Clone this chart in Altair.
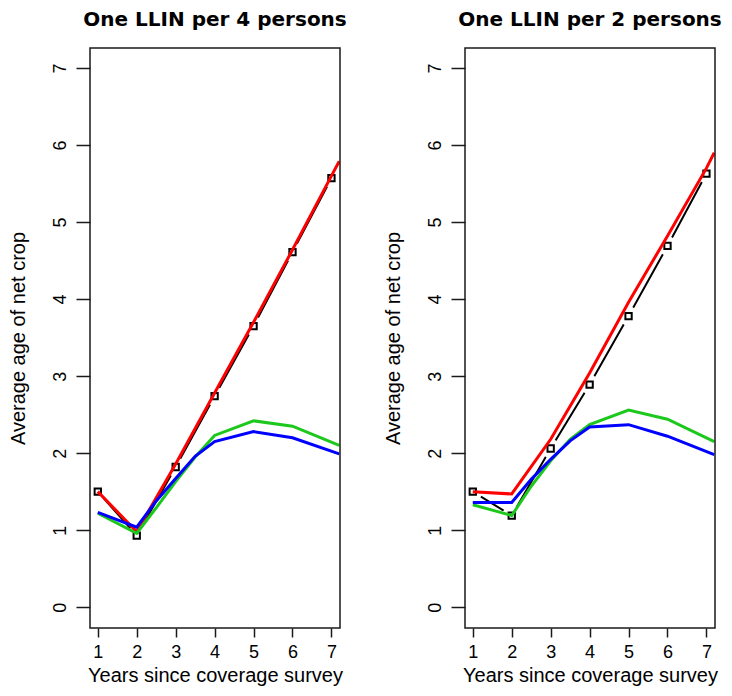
import altair as alt
import pandas as pd

# ---- data ----
x_obs = [1, 2, 3, 4, 5, 6, 7]
obs_4 = [1.50, 0.93, 1.82, 2.74, 3.65, 4.61, 5.57]
obs_2 = [1.50, 1.19, 2.06, 2.89, 3.78, 4.69, 5.63]

x_red = [1, 2, 3, 4, 5, 6, 7, 7.2]
red_4 = [1.50, 0.98, 1.86, 2.78, 3.70, 4.64, 5.60, 5.79]
red_2 = [1.50, 1.47, 2.18, 3.04, 3.96, 4.82, 5.70, 5.90]

x_curve = [1, 2, 2.5, 3, 3.5, 4, 5, 6, 7.2]
green_4 = [1.22, 0.96, 1.29, 1.63, 1.95, 2.23, 2.42, 2.35, 2.10]
blue_4 = [1.23, 1.04, 1.38, 1.67, 1.96, 2.15, 2.28, 2.20, 1.99]
green_2 = [1.33, 1.19, 1.57, 1.90, 2.18, 2.37, 2.56, 2.44, 2.15]
blue_2 = [1.36, 1.36, 1.66, 1.92, 2.16, 2.34, 2.37, 2.22, 1.98]

titles = ["One LLIN per 4 persons", "One LLIN per 2 persons"]
x_ticks = [1, 2, 3, 4, 5, 6, 7]
y_ticks = [0, 1, 2, 3, 4, 5, 6, 7]

AX_FONT = "Liberation Sans"
INK = "#1a1a1a"


def panel(title, obs, red, green, blue):
    xs = alt.Scale(domain=[0.8, 7.22], nice=False, zero=False)
    ys = alt.Scale(domain=[-0.27, 7.26], nice=False, zero=False)
    xax = alt.Axis(values=x_ticks, title="Years since coverage survey", grid=False,
                   domain=False, tickSize=9, tickWidth=1.5, tickColor=INK,
                   labelFont=AX_FONT, labelFontSize=18, labelColor="black",
                   labelPadding=6, labelFlush=False, format="d",
                   titleFont=AX_FONT, titleFontSize=20, titleFontWeight="normal",
                   titleColor="black", titlePadding=4)
    yax = alt.Axis(values=y_ticks, title="Average age of net crop", grid=False,
                   domain=False, tickSize=14, tickWidth=1.5, tickColor=INK,
                   labelFont=AX_FONT, labelFontSize=18, labelColor="black",
                   labelAngle=270, labelAlign="center", labelBaseline="bottom",
                   labelPadding=7, labelFlush=False, format="d",
                   titleFont=AX_FONT, titleFontSize=20, titleFontWeight="normal",
                   titleColor="black", titlePadding=23)

    obs_df = pd.DataFrame({"x": x_obs, "y": obs})
    red_df = pd.DataFrame({"x": x_red, "y": red})
    green_df = pd.DataFrame({"x": x_curve, "y": green})
    blue_df = pd.DataFrame({"x": x_curve, "y": blue})

    def enc(ch):
        return ch.encode(
            x=alt.X("x:Q", scale=xs, axis=xax),
            y=alt.Y("y:Q", scale=ys, axis=yax),
        )

    black = enc(alt.Chart(obs_df).mark_line(color="black", strokeWidth=2))
    halo = enc(alt.Chart(obs_df).mark_point(shape="circle", filled=True, color="white",
                                              size=380, opacity=1, clip=True))
    marks = enc(alt.Chart(obs_df).mark_point(shape="square", size=40, fill="white",
                                               fillOpacity=1, stroke="black",
                                               strokeWidth=2, opacity=1))
    red_l = enc(alt.Chart(red_df).mark_line(color="#FF0000", strokeWidth=3, clip=True))
    green_l = enc(alt.Chart(green_df).mark_line(color="#1DC81D", strokeWidth=3, clip=True))
    blue_l = enc(alt.Chart(blue_df).mark_line(color="#0000FF", strokeWidth=3, clip=True))
    frame = alt.Chart(pd.DataFrame({"f": [0]})).mark_rect(
        filled=False, stroke=INK, strokeWidth=1.5
    ).encode(x=alt.value(0), x2=alt.value("width"), y=alt.value(0), y2=alt.value("height"))

    return alt.layer(black, halo, marks, red_l, green_l, blue_l, frame).properties(
        width=250, height=580,
        title=alt.Title(title, font="DejaVu Sans", fontSize=20, fontWeight="bold",
                        color="black", offset=17, anchor="middle"),
    )


left = panel(titles[0], obs_4, red_4, green_4, blue_4)
right = panel(titles[1], obs_2, red_2, green_2, blue_2)

chart = alt.hconcat(left, right, spacing=125, bounds="flush").properties(
    padding={"left": 0, "top": 2, "right": 0, "bottom": 3},
    background="white",
).configure_view(strokeWidth=0)

chart.save("out.html", embed_options={"renderer": "svg", "actions": False})
